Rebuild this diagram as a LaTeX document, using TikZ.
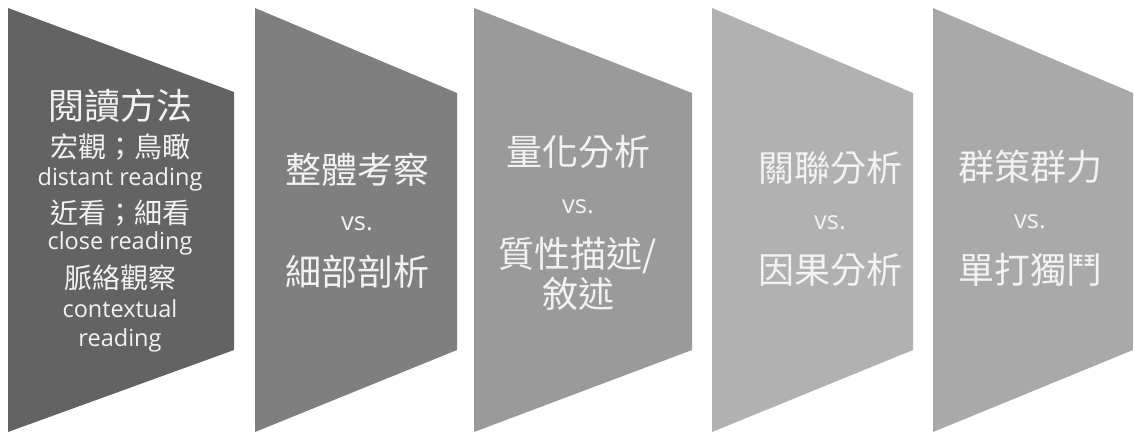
\documentclass[tikz,border=0pt]{standalone}
\usepackage{fontspec}
\setmainfont{Noto Sans CJK TC}
\newfontfamily\latinfont{Open Sans}
\begin{document}
\begin{tikzpicture}[x=1pt,y=-1pt,
  txt/.style={text=white!95!black,inner sep=0pt,anchor=center},
  big/.style={txt,font=\fontsize{36}{40}\selectfont},
  mid/.style={txt,font=\fontsize{28}{32}\selectfont},
  lat/.style={txt,font=\latinfont\fontsize{23.5}{28}\selectfont},
  vsl/.style={txt,font=\latinfont\fontsize{25.5}{30}\selectfont}]
\definecolor{gA}{HTML}{636363}
\definecolor{gB}{HTML}{7F7F7F}
\definecolor{gC}{HTML}{9A9A9A}
\definecolor{gD}{HTML}{B1B1B1}
\definecolor{gE}{HTML}{A9A9A9}
\fill[white] (0,0) rectangle (1134,436);
\useasboundingbox (0,0) rectangle (1134,436);
% chevron shapes
\fill[gA] (8,8) -- (234,92) -- (234,350) -- (8,432) -- cycle;
\fill[gB] (255,8) -- (457,93) -- (457,350) -- (255,432) -- cycle;
\fill[gC] (474,8) -- (692,93) -- (692,350) -- (474,432) -- cycle;
\fill[gD] (712,8) -- (913,93) -- (913,350) -- (712,432) -- cycle;
\fill[gE] (933,8) -- (1133,93) -- (1133,350) -- (933,432) -- cycle;
% shape 1
\node[big] (a1) at (120,106) {閱讀方法};
\node[mid] (a2) at (120,147) {宏觀；鳥瞰};
\node[lat] (a3) at (120,179) {distant reading};
\node[mid] (a4) at (120,213) {近看；細看};
\node[lat] (a5) at (120,243) {close reading};
\node[mid] (a6) at (120,278) {脈絡觀察};
\node[lat] (a7) at (120,309) {contextual};
\node[lat] (a8) at (120,340) {reading};
% shape 2
\node[big] (b1) at (357,170) {整體考察};
\node[vsl] (b2) at (357,224) {vs.};
\node[big] (b3) at (357,272) {細部剖析};
% shape 3
\node[big] (c1) at (578,152) {量化分析};
\node[vsl] (c2) at (578,207) {vs.};
\node[big] (c3) at (578,256) {質性描述/};
\node[big] (c4) at (578,294) {敘述};
% shape 4
\node[big] (d1) at (830,168) {關聯分析};
\node[vsl] (d2) at (830,223) {vs.};
\node[big] (d3) at (830,270) {因果分析};
% shape 5
\node[big] (e1) at (1030,167) {群策群力};
\node[vsl] (e2) at (1030,222) {vs.};
\node[big] (e3) at (1030,270) {單打獨鬥};
\end{tikzpicture}
\end{document}
